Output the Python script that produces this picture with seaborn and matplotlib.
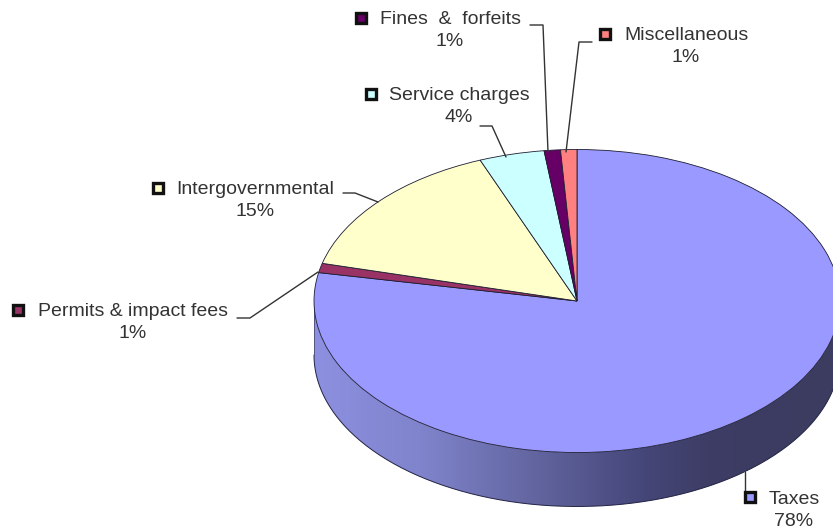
import numpy as np
import matplotlib
matplotlib.use("Agg")
import matplotlib.pyplot as plt
from matplotlib.colors import LinearSegmentedColormap
from matplotlib.patches import PathPatch
from matplotlib.path import Path
from matplotlib.transforms import Affine2D
import seaborn as sns

# Revenue sources, clockwise from twelve o'clock
categories = ["Taxes", "Permits & impact fees", "Intergovernmental",
              "Service charges", "Fines  &  forfeits", "Miscellaneous"]
shares = [78, 1, 15, 4, 1, 1]
share_labels = ["78%", "1%", "15%", "4%", "1%", "1%"]
slice_colors = ["#9999FF", "#993366", "#FFFFCC", "#CCFFFF", "#660066", "#FF8080"]

WIDTH, HEIGHT = 833, 531
CX, CY, RX, RY, DEPTH = 577, 301, 263, 151.5, 54

sns.set_theme(style="white")
plt.rcParams["font.family"] = ["Liberation Sans", "DejaVu Sans"]

fig = plt.figure(figsize=(WIDTH / 100, HEIGHT / 100), dpi=100, facecolor="white")
ax = fig.add_axes([0, 0, 1, 1])
ax.set_axis_off()

# Pixel-based transform for callouts (origin at the upper left)
px = Affine2D().scale(1, -1).translate(0, HEIGHT)

# Thickness of the disc: shaded wall below the front rim
wall_drop = DEPTH / RY
theta = np.linspace(np.pi, 2 * np.pi, 240)
rim_x, rim_y = np.cos(theta), np.sin(theta)
wall = np.vstack([np.column_stack([rim_x, rim_y]),
                  np.column_stack([rim_x[::-1], rim_y[::-1] - wall_drop])])
wall_patch = PathPatch(Path(np.vstack([wall, wall[0]]), closed=True),
                       facecolor="none", edgecolor="none")
ax.add_patch(wall_patch)
shade = LinearSegmentedColormap.from_list(
    "wall", [(0, "#8C90E0"), (0.2, "#8084CC"), (0.42, "#62659F"),
             (0.62, "#46477A"), (0.75, "#3D3D65"), (1, "#3C3C60")])
img = ax.imshow(np.linspace(0, 1, 256)[None, :], cmap=shade, aspect="auto",
                extent=(-1, 1, -1 - wall_drop, 0), zorder=1)
img.set_clip_path(wall_patch)
ax.plot(rim_x, rim_y - wall_drop, color="#222244", lw=0.7, zorder=1.5)
ax.plot([-1, -1], [0, -wall_drop], color="#555580", lw=0.7, zorder=1.5)

# Top face: circular pie stretched into an ellipse by the free aspect ratio
ax.pie(shares, colors=sns.color_palette(slice_colors), startangle=90,
       counterclock=False, radius=1, center=(0, 0),
       wedgeprops=dict(edgecolor="#1c1c30", linewidth=0.6, zorder=2))
ax.set_aspect("auto")
ax.set_xlim(-CX / RX, (WIDTH - CX) / RX)
ax.set_ylim((CY - HEIGHT) / RY, CY / RY)

# Callout layout: label centre, legend key and leader line per slice
label_x = [794, 133, 255, 459, 450, 686]
label_y = [499, 312, 190, 95, 20, 35]
key_pos = [(750, 497), (18, 310), (158, 188), (371, 94), (361, 18), (605, 34)]
leaders = [
    [(745, 472), (745, 491)],
    [(237, 318), (250, 318), (318, 272)],
    [(343, 193), (355, 193), (378, 202)],
    [(480, 126), (492, 126), (506, 157)],
    [(530, 25), (543, 25), (548, 152)],
    [(592, 42), (579, 42), (566, 152)],
]

for name, pct, lx, ly, key, line, col in zip(categories, share_labels, label_x, label_y,
                                             key_pos, leaders, slice_colors):
    xs, ys = zip(*line)
    ax.plot(xs, ys, color="#333333", lw=1, transform=px, zorder=3, clip_on=False)
    ax.plot([key[0]], [key[1]], marker="s", ms=7.4, mew=2.4, mfc=col, mec="#111111",
            transform=px, zorder=4, ls="none", clip_on=False)
    ax.text(lx, ly, name, transform=px, ha="center", va="center",
            fontsize=14, color="#333333", zorder=4)
    ax.text(lx, ly + 22, pct, transform=px, ha="center", va="center",
            fontsize=14, color="#333333", zorder=4)

fig.savefig("out.png", dpi=100, facecolor="white")
